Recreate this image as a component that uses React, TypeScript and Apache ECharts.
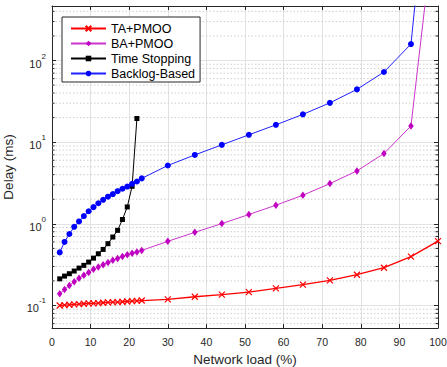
import React, { useEffect, useRef } from 'react';
import * as echarts from 'echarts';

// Network load (%) sample points
const loadDense = [2, 3.25, 4.5, 5.75, 7, 8.25, 9.5, 10.75, 12, 13.25, 14.5, 15.75, 17, 18.25, 19.5, 20.75, 22, 23.25];
const loadDenseTS = [2, 3.25, 4.5, 5.75, 7, 8.25, 9.5, 10.75, 12, 13.25, 14.5, 15.75, 17, 18.25, 19.5, 20.75, 22];
const loadSparse = [30, 37, 44, 51, 58, 65, 72, 79, 86, 93, 100];

// Delay (ms)
const taPmooDense = [0.100, 0.101, 0.102, 0.103, 0.104, 0.105, 0.106, 0.106, 0.107, 0.108, 0.109, 0.110, 0.110, 0.111, 0.112, 0.113, 0.114, 0.115];
const taPmooSparse = [0.119, 0.128, 0.136, 0.146, 0.162, 0.180, 0.203, 0.238, 0.290, 0.396, 0.615];

const baPmooDense = [0.139, 0.157, 0.176, 0.195, 0.216, 0.235, 0.254, 0.277, 0.295, 0.316, 0.337, 0.357, 0.377, 0.399, 0.417, 0.435, 0.453, 0.473];
const baPmooSparse = [0.61, 0.787, 1.006, 1.30, 1.69, 2.24, 3.11, 4.45, 7.26, 15.8, 11500];

const timeStopping = [0.212, 0.229, 0.245, 0.264, 0.287, 0.310, 0.340, 0.380, 0.430, 0.486, 0.571, 0.689, 0.832, 1.13, 1.61, 2.88, 19.5];

const backlogDense = [0.447, 0.60, 0.75, 0.92, 1.07, 1.245, 1.425, 1.60, 1.785, 1.97, 2.15, 2.31, 2.51, 2.69, 2.86, 3.09, 3.30, 3.6];
const backlogSparse = [5.18, 6.98, 9.27, 12.3, 16.3, 21.9, 30.3, 44.3, 72.3, 159, 290000];

const seriesNames = ['TA+PMOO', 'BA+PMOO', 'Time Stopping', 'Backlog-Based'];

// minor log grid values
const minorValues = [0.06, 0.07, 0.08, 0.09, 0.2, 0.3, 0.4, 0.5, 0.6, 0.7, 0.8, 0.9, 2, 3, 4, 5, 6, 7, 8, 9, 20, 30, 40, 50, 60, 70, 80, 90, 200, 300, 400];

const X_MIN = 0;
const X_MAX = 100;
const X_INTERVAL = 10;
const Y_MIN = 0.053;
const Y_MAX = 465;

const FONT = 'Liberation Sans, Arial, Helvetica, sans-serif';
const AXIS_COLOR = '#262626';

function pairs(xs: number[], ys: number[]) {
  return xs.map((x, i) => [x, ys[i]]);
}

export default function App() {
  const ref = useRef<HTMLDivElement>(null);

  useEffect(() => {
    if (!ref.current) return;
    const chart = echarts.init(ref.current, null, { renderer: 'svg' });

    const yLabelFormatter = (v: number) => {
      const l = Math.log10(v);
      const e = Math.round(l);
      if (Math.abs(l - e) > 1e-6) return '';
      return `{b|10}{s|${e}}`;
    };

    const option: any = {
      animation: false,
      backgroundColor: '#ffffff',
      grid: {
        left: 52,
        right: 9,
        top: 6,
        bottom: 39,
        containLabel: false,
        outerBoundsMode: 'none',
      },
      legend: {
        data: seriesNames,
        orient: 'vertical',
        left: 62,
        top: 17,
        itemWidth: 35,
        itemHeight: 7,
        itemGap: 2,
        padding: [5, 5, 2, 8],
        backgroundColor: '#ffffff',
        borderColor: AXIS_COLOR,
        borderWidth: 1,
        borderRadius: 0,
        selectedMode: false,
        textStyle: { fontSize: 12.5, color: '#000000', fontFamily: FONT },
      },
      xAxis: [
        {
          type: 'value',
          min: X_MIN,
          max: X_MAX,
          interval: X_INTERVAL,
          position: 'bottom',
          name: 'Network load (%)',
          nameLocation: 'middle',
          nameGap: 24,
          nameTextStyle: { fontSize: 13.5, color: AXIS_COLOR, fontFamily: FONT },
          axisLine: { show: true, onZero: false, lineStyle: { color: AXIS_COLOR, width: 1 } },
          axisTick: { show: true, inside: true, length: 4, lineStyle: { color: AXIS_COLOR } },
          axisLabel: { color: AXIS_COLOR, fontSize: 10.5, margin: 8, fontFamily: FONT },
          splitLine: { show: true, lineStyle: { color: '#e2e2e2', width: 1 } },
        },
        {
          type: 'value',
          min: X_MIN,
          max: X_MAX,
          interval: X_INTERVAL,
          position: 'top',
          axisLine: { show: true, onZero: false, lineStyle: { color: AXIS_COLOR, width: 1 } },
          axisTick: { show: true, inside: true, length: 4, lineStyle: { color: AXIS_COLOR } },
          axisLabel: { show: false },
          splitLine: { show: false },
        },
      ],
      yAxis: [
        {
          type: 'log',
          logBase: 10,
          min: Y_MIN,
          max: Y_MAX,
          position: 'left',
          name: 'Delay (ms)',
          nameLocation: 'middle',
          nameGap: 22,
          nameRotate: 90,
          nameTextStyle: { fontSize: 13.5, color: AXIS_COLOR, fontFamily: FONT },
          axisLine: { show: true, onZero: false, lineStyle: { color: AXIS_COLOR, width: 1 } },
          axisTick: { show: true, inside: true, length: 4, lineStyle: { color: AXIS_COLOR } },
          axisLabel: {
            margin: 6,
            formatter: yLabelFormatter,
            showMinLabel: false,
            showMaxLabel: false,
            rich: {
              b: { fontSize: 11, color: AXIS_COLOR, fontFamily: FONT, verticalAlign: 'bottom', lineHeight: 17 },
              s: { fontSize: 8, color: AXIS_COLOR, fontFamily: FONT, verticalAlign: 'top', lineHeight: 9 },
            },
          },
          splitLine: { show: true, lineStyle: { color: '#e2e2e2', width: 1 } },
        },
        {
          type: 'log',
          logBase: 10,
          min: Y_MIN,
          max: Y_MAX,
          position: 'right',
          axisLine: { show: true, onZero: false, lineStyle: { color: AXIS_COLOR, width: 1 } },
          axisTick: { show: true, inside: true, length: 4, lineStyle: { color: AXIS_COLOR } },
          axisLabel: { show: false },
          splitLine: { show: false },
        },
      ],
      series: [
        {
          type: 'custom',
          name: 'minor',
          silent: true,
          z: 1,
          xAxisIndex: 0,
          yAxisIndex: 0,
          data: minorValues.map((v) => [X_MIN, v]),
          encode: { x: 0, y: 1 },
          renderItem: (_params: any, api: any) => {
            const v = api.value(1);
            const a = api.coord([X_MIN, v]);
            const b = api.coord([X_MAX, v]);
            return {
              type: 'group',
              children: [
                {
                  type: 'line',
                  shape: { x1: a[0], y1: a[1], x2: b[0], y2: b[1] },
                  style: { stroke: '#cfcfcf', lineWidth: 1, lineDash: [1.5, 2] },
                },
                {
                  type: 'line',
                  shape: { x1: a[0], y1: a[1], x2: a[0] + 2.5, y2: a[1] },
                  style: { stroke: AXIS_COLOR, lineWidth: 1 },
                },
                {
                  type: 'line',
                  shape: { x1: b[0], y1: b[1], x2: b[0] - 2.5, y2: b[1] },
                  style: { stroke: AXIS_COLOR, lineWidth: 1 },
                },
              ],
            };
          },
        },
        {
          name: 'TA+PMOO',
          type: 'line',
          z: 5,
          data: pairs([...loadDense, ...loadSparse], [...taPmooDense, ...taPmooSparse]),
          symbol: 'path://M0,0L10,10M10,0L0,10',
          symbolSize: 6,
          itemStyle: { color: '#ff0000', borderColor: '#ff0000', borderWidth: 1.2 },
          lineStyle: { color: '#ff0000', width: 1.3 },
        },
        {
          name: 'BA+PMOO',
          type: 'line',
          z: 4,
          data: pairs([...loadDense, ...loadSparse], [...baPmooDense, ...baPmooSparse]),
          symbol: 'diamond',
          symbolSize: [5.5, 7.5],
          itemStyle: { color: '#c000c0' },
          lineStyle: { color: '#cc33cc', width: 1 },
        },
        {
          name: 'Time Stopping',
          type: 'line',
          z: 3,
          data: pairs(loadDenseTS, timeStopping),
          symbol: 'rect',
          symbolSize: 5,
          itemStyle: { color: '#000000' },
          lineStyle: { color: '#000000', width: 1 },
        },
        {
          name: 'Backlog-Based',
          type: 'line',
          z: 3,
          data: pairs([...loadDense, ...loadSparse], [...backlogDense, ...backlogSparse]),
          symbol: 'circle',
          symbolSize: 6,
          itemStyle: { color: '#0000ff' },
          lineStyle: { color: '#2020ff', width: 1 },
        },
      ],
    };

    chart.setOption(option);
    return () => {
      chart.dispose();
    };
  }, []);

  return (
    <div
      ref={ref}
      style={{ position: 'absolute', left: 0, top: 0, width: 447, height: 367, background: '#fff' }}
    />
  );
}
